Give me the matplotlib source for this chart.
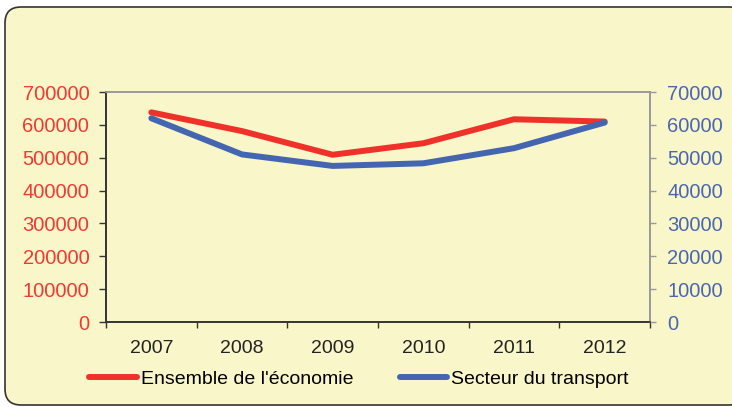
# -*- coding: utf8 -*-
import numpy as np
import matplotlib
matplotlib.use("Agg")
import matplotlib.pyplot as plt
from matplotlib.patches import FancyBboxPatch
from matplotlib.transforms import IdentityTransform

# Data
years = ["2007", "2008", "2009", "2010", "2011", "2012"]
economie = [638000, 581000, 509000, 544000, 617000, 610000]
transport = [62000, 51000, 47500, 48300, 52900, 60700]
left_ticks = [0, 100000, 200000, 300000, 400000, 500000, 600000, 700000]
right_ticks = [0, 10000, 20000, 30000, 40000, 50000, 60000, 70000]

bg = "#F9F6C9"
red = "#EE3129"
blue = "#4466B0"
red_txt = "#F03A33"
blue_txt = "#4A66B0"

plt.rcParams['font.family'] = ['Liberation Sans', 'DejaVu Sans']

fig = plt.figure(figsize=(7.32, 4.07), dpi=100)
fig.patch.set_facecolor("white")

# rounded frame (pixel coords)
box = FancyBboxPatch((5, 2), 740, 398, boxstyle="round,pad=0,rounding_size=16",
                     transform=IdentityTransform(), facecolor=bg,
                     edgecolor="#333333", linewidth=1.2, zorder=-5)
fig.patches.append(box)

ax = fig.add_axes([106 / 732, 1 - 322 / 407, 544 / 732, 230 / 407])
ax.set_facecolor("none")
x = np.arange(len(years))
l1, = ax.plot(x, economie, color=red, linewidth=4.3, solid_capstyle="round",
              label="Ensemble de l'économie", zorder=3)
ax.set_xlim(-0.5, len(years) - 0.5)
ax.set_ylim(0, 700000)
ax.set_yticks(left_ticks)
ax.set_yticklabels([str(v) for v in left_ticks])
ax.tick_params(axis="y", colors="#333333", labelcolor=red_txt, labelsize=14.5,
               length=5, width=1, direction="out", pad=7)
ax.set_xticks(x)
ax.set_xticklabels(years)
ax.set_xticks(np.arange(len(years) + 1) - 0.5, minor=True)
ax.tick_params(axis="x", which="major", length=0, labelsize=14,
               labelcolor="#222222", pad=13)
ax.tick_params(axis="x", which="minor", length=4, width=1, color="#333333")

ax2 = ax.twinx()
l2, = ax2.plot(x, transport, color=blue, linewidth=4.3, solid_capstyle="round",
               label="Secteur du transport", zorder=3)
ax2.set_ylim(0, 70000)
ax2.set_yticks(right_ticks)
ax2.set_yticklabels([str(v) for v in right_ticks])
ax2.tick_params(axis="y", colors="#999999", labelcolor=blue_txt, labelsize=14.5,
                length=4.5, width=1, direction="out", pad=8)

for a in (ax, ax2):
    a.spines["top"].set_color("#999999")
    a.spines["right"].set_color("#999999")
    a.spines["left"].set_color("#333333")
    a.spines["bottom"].set_color("#333333")
    for s in a.spines.values():
        s.set_linewidth(1.2)

fig.legend([l1, l2], [l1.get_label(), l2.get_label()], loc="center",
           bbox_to_anchor=(359 / 732, 1 - 379 / 407), ncol=2, frameon=False,
           fontsize=14, handlelength=2.45, handletextpad=0.2,
           columnspacing=2.4)

plt.savefig("out.png", dpi=100, facecolor="white")
